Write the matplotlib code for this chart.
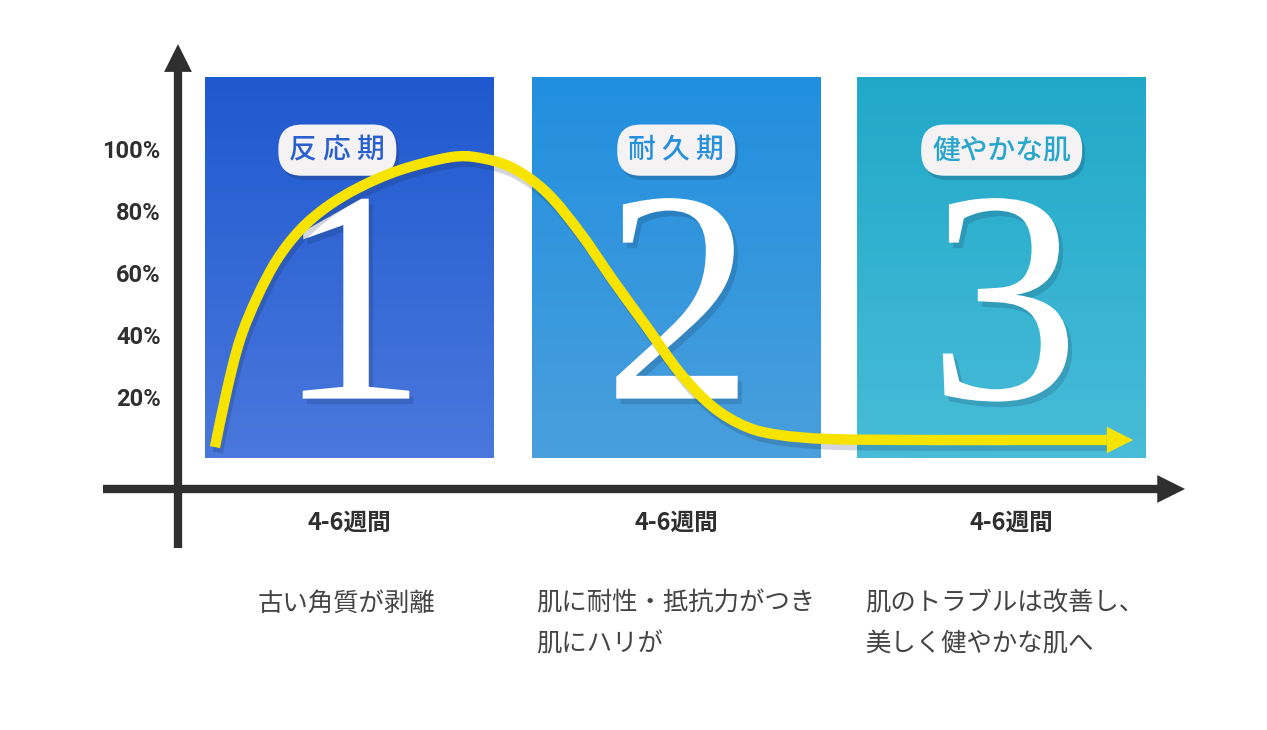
import numpy as np
import matplotlib.pyplot as plt
import matplotlib.patheffects as pe
from matplotlib.colors import LinearSegmentedColormap
from matplotlib.path import Path
from matplotlib.patches import PathPatch

plt.rcParams['font.family'] = ['Noto Sans CJK JP', 'DejaVu Sans']

# values
y_ticks = [20, 40, 60, 80, 100]
phase_names = ['反 応 期', '耐 久 期', '健やかな肌']
phase_numbers = ['1', '2', '3']
phase_weeks = ['4-6週間', '4-6週間', '4-6週間']
phase_notes = ['古い角質が剥離',
               '肌に耐性・抵抗力がつき\n肌にハリが',
               '肌のトラブルは改善し、\n美しく健やかな肌へ']
top_colors = ['#1f59cf', '#218fdf', '#21a8c9']
bottom_colors = ['#4a78dc', '#4a9fdc', '#48bcd8']
label_colors = ['#2a5fcf', '#2690dc', '#28a6cc']

# reaction curve (weeks, %)
curve_x = [0.77, 1.02, 1.29, 1.65, 2.06, 2.54, 3.10, 3.79, 4.63, 5.67, 6.29,
           6.98, 7.69, 8.38, 9.06, 9.77, 10.46, 11.15, 11.85, 12.54, 13.58,
           15.5, 17.5, 19.35]
curve_y = [4.8, 23.2, 39.4, 53.2, 65.2, 74.8, 82.3, 88.7, 94.2, 98.3, 98.1,
           94.8, 86.8, 73.9, 58.7, 43.5, 28.7, 17.7, 11.3, 8.7, 7.4,
           7.1, 7.1, 7.1]

# layout (weeks on x, % on y)
panel_left = [0.56, 7.37, 14.15]
panel_width = 6.02
panel_bottom = 1.3
panel_top = 123.9
pill_shift = [-0.25, 0, 0]
dark = '#2f2f2f'
yellow = '#f6e400'

fig = plt.figure(figsize=(12.67, 7.30), dpi=100)
ax = fig.add_axes([0, 0, 1, 1])
ax.axis('off')

grad = np.linspace(0, 1, 256).reshape(-1, 1)
for i in range(3):
    cmap = LinearSegmentedColormap.from_list('p%d' % i, [bottom_colors[i], top_colors[i]])
    x0 = panel_left[i]
    ax.imshow(grad, cmap=cmap, origin='lower', aspect='auto', zorder=1,
              extent=[x0, x0 + panel_width, panel_bottom, panel_top])
    cx = x0 + panel_width / 2
    ax.text(cx + 0.05, 44, phase_numbers[i], ha='center', va='center', color='white',
            fontsize=218, family='Liberation Serif', zorder=2,
            path_effects=[pe.withSimplePatchShadow(offset=(3, -4), shadow_rgbFace='#10203a', alpha=0.16)])
    t = ax.text(cx + pill_shift[i], 100.6, phase_names[i], ha='center', va='center',
                color=label_colors[i], fontsize=20, fontweight='medium', zorder=4,
                bbox=dict(boxstyle='round,pad=0.4,rounding_size=0.85', fc='#f4f2f2', ec='none'))
    t.get_bbox_patch().set_path_effects([
        pe.SimplePatchShadow(offset=(2, -3), shadow_rgbFace='#102040', alpha=0.2), pe.Normal()])
    ax.text(cx + (0.2 if i == 2 else 0), -19.5, phase_weeks[i], ha='center', va='center',
            color=dark, fontsize=17, fontweight='bold')
    ax.text(x0 + [1.1, 0.1, 0.17][i], -41.5, phase_notes[i], ha='left', va='top',
            color='#444444', fontsize=18.3, linespacing=1.72)

# axes with arrows
ax.plot([0, 0], [-27.7, 131], color=dark, lw=6, solid_capstyle='butt', zorder=3)
ax.annotate('', xy=(0, 134.8), xytext=(0, 128),
            arrowprops=dict(arrowstyle='-|>,head_length=1.0,head_width=0.5',
                            mutation_scale=20, lw=0, color=dark, shrinkA=0, shrinkB=0))
ax.plot([-1.56, 20.5], [-8.7, -8.7], color=dark, lw=6, solid_capstyle='butt', zorder=3)
ax.annotate('', xy=(20.98, -8.7), xytext=(20.2, -8.7),
            arrowprops=dict(arrowstyle='-|>,head_length=1.0,head_width=0.5',
                            mutation_scale=20, lw=0, color=dark, shrinkA=0, shrinkB=0))

for t in y_ticks:
    ax.text(-0.36, t, '%d%%' % t, ha='right', va='center', color=dark, fontsize=17,
            fontweight='bold', family=['Roboto', 'DejaVu Sans'])

# yellow curve: smooth path through the read points (Catmull-Rom as cubic Bezier)
pts = np.column_stack([curve_x, curve_y])
verts = [pts[0]]
codes = [Path.MOVETO]
for k in range(len(pts) - 1):
    p0 = pts[max(k - 1, 0)]
    p1 = pts[k]
    p2 = pts[k + 1]
    p3 = pts[min(k + 2, len(pts) - 1)]
    verts += [p1 + (p2 - p0) / 6, p2 - (p3 - p1) / 6, p2]
    codes += [Path.CURVE4] * 3
curve = PathPatch(Path(verts, codes), fc='none', ec=yellow, lw=7.5, capstyle='butt',
                  joinstyle='round', zorder=5,
                  path_effects=[pe.SimpleLineShadow(offset=(2, -4), shadow_color='#102040', alpha=0.18),
                                pe.Normal()])
ax.add_patch(curve)
ax.annotate('', xy=(19.9, curve_y[-1]), xytext=(19.2, curve_y[-1]),
            arrowprops=dict(arrowstyle='-|>,head_length=1.0,head_width=0.5',
                            mutation_scale=19, lw=0, color=yellow, shrinkA=0, shrinkB=0),
            zorder=6)

ax.set_xlim(-178 / 48, (1267 - 178) / 48)
ax.set_ylim((462 - 730) / 3.1, 462 / 3.1)

fig.savefig('out.png', dpi=100, facecolor='white')
